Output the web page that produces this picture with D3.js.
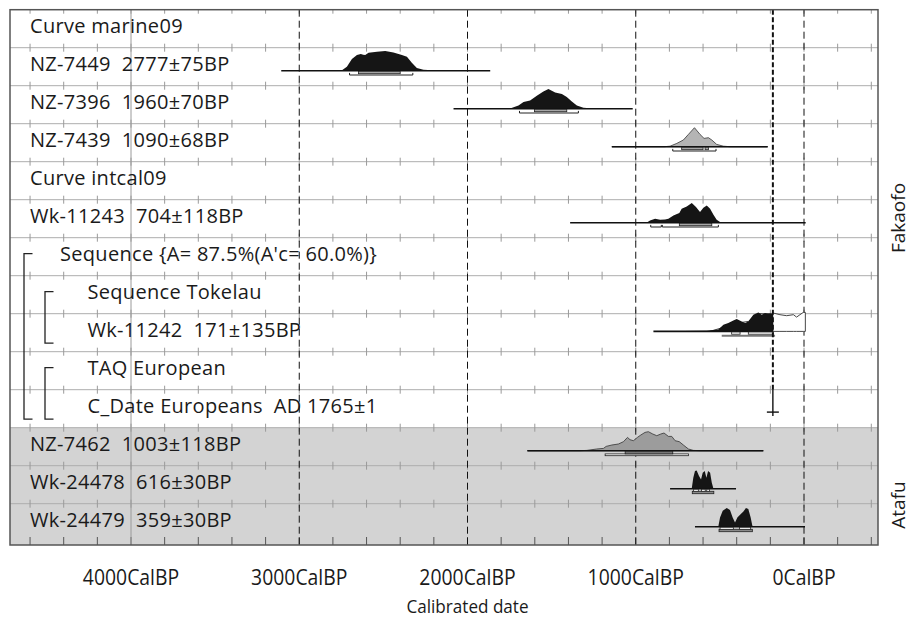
<!DOCTYPE html>
<html><head><meta charset="utf-8">
<script src="https://cdn.jsdelivr.net/npm/d3@7"></script>
<style>body{margin:0;background:#fff} svg{display:block} text{white-space:pre}</style>
</head><body><svg id="c" width="911" height="618"></svg>
<script>
// ---------------- DATA ----------------
const rowLabels = [
  "Curve marine09",
  "NZ-7449  2777±75BP",
  "NZ-7396  1960±70BP",
  "NZ-7439  1090±68BP",
  "Curve intcal09",
  "Wk-11243  704±118BP",
  "Sequence {A= 87.5%(A'c= 60.0%)}",
  "Sequence Tokelau",
  "Wk-11242  171±135BP",
  "TAQ European",
  "C_Date Europeans  AD 1765±1",
  "NZ-7462  1003±118BP",
  "Wk-24478  616±30BP",
  "Wk-24479  359±30BP"
];
const groupLabels = ["Fakaofo", "Atafu"];
const tickYears = [4000, 3000, 2000, 1000, 0];
const tickLabels = ["4000CalBP", "3000CalBP", "2000CalBP", "1000CalBP", "0CalBP"];
const axisTitle = "Calibrated date";

// distributions: [cal BP, relative probability]
const nz7449Dist = [[3107,0],[2780,0.2],[2746,0.4],[2717,4],[2687,11.7],[2657,15.7],[2634,16.7],[2620,16],[2608,15.7],[2588,18],[2538,19],[2489,19.7],[2440,18.3],[2390,15.7],[2360,14],[2331,8],[2301,2.7],[2262,1],[2182,0.3],[2103,0],[1865,0]];
const nz7396Dist = [[2083,0],[1790,0],[1747,0.3],[1697,3.3],[1667,6.7],[1628,8.3],[1588,13],[1549,17.3],[1519,19.7],[1479,16.3],[1439,14.7],[1410,11.7],[1380,7.3],[1350,3.3],[1311,1],[1251,0.3],[1190,0],[1018,0]];
const nz7439Dist = [[1142,0],[830,0],[796,0.5],[756,3.3],[717,6.7],[687,12.3],[651,19],[618,12.3],[594,8.3],[568,9],[548,6.7],[519,2.3],[479,0.5],[440,0],[216,0]];
const wk11243Dist = [[1390,0],[960,0],[934,0.3],[915,2.3],[885,4],[855,3],[826,3.3],[806,4],[776,7.3],[741,9.7],[727,14],[697,16.3],[667,19.7],[642,15.7],[618,10.7],[598,15],[578,17.3],[558,14],[539,8.3],[519,3],[499,0.7],[380,0.3],[280,0.2],[150,0],[-10,0]];
const wk11242Post = [[895,0],[717,0.3],[578,0.7],[509,2],[479,6.7],[450,8.3],[420,11],[400,12.3],[370,10],[350,8.3],[331,10],[301,16.7],[272,19],[251,16.7],[232,18.3],[212,17.7],[192,17.7],[183,17.7],[182.5,0]];
const wk11242Like = [[560,0],[480,4],[420,8],[370,9],[330,10],[300,15],[272,18],[232,17.5],[192,18],[182,18.3],[143,16.7],[103,15.7],[63,16.7],[44,14.3],[24,16.7],[4,19],[-8,19],[-8,0]];
const nz7462Dist = [[1644,0],[1330,0],[1291,0.3],[1232,1.7],[1192,2.3],[1176,4.3],[1142,5.7],[1103,6.7],[1073,9],[1049,13.3],[1034,11],[1014,10],[990,13.3],[970,15.7],[945,18.3],[925,19],[899,16.7],[875,15],[851,16.7],[832,17.7],[806,14.3],[786,14.3],[766,10],[741,9],[717,5.7],[687,1.7],[658,0.3],[620,0],[242,0]];
const wk24478Dist = [[796,0],[672,0],[667,0.5],[658,11],[648,17.7],[638,18.3],[624,12.7],[612,9.3],[602,16],[590,17.7],[580,11],[570,17.7],[558,16],[548,6],[539,0.5],[530,0],[404,0]];
const wk24479Dist = [[648,0],[515,0],[509,0.5],[499,9.3],[483,16],[459,18.7],[440,16.7],[424,9.3],[410,4.3],[396,9.3],[380,12],[360,15.3],[345,18.7],[331,17.7],[317,9.3],[307,1],[297,0],[-6,0]];

// highest posterior density ranges [from, to] cal BP
const nz7449R68 = [[2648,2400]],  nz7449R95 = [[2701,2325]];
const nz7396R68 = [[1602,1410]],  nz7396R95 = [[1691,1341]];
const nz7439R68 = [[727,600],[588,568]], nz7439R95 = [[780,523]];
const wk11243R68 = [[741,548]], wk11243R95 = [[911,848],[842,509]];
const wk11242R68 = [[430,380],[331,183]], wk11242R95 = [[489,172]];
const nz7462R68 = [[1063,780]], nz7462R95 = [[1182,687]];
const wk24478R68 = [[656,628],[610,587],[578,562]], wk24478R95 = [[664,536]];
const wk24479R68 = [[499,420],[384,317]], wk24479R95 = [[505,307]];

const cDateBP = 185; // AD 1765

// ---------------- LAYOUT ----------------
const svg = d3.select("#c");
const L = 10, R = 878, T = 9.7, B = 545, rowH = 38;
const x = d3.scaleLinear().domain([4000, 0]).range([131, 804]);
const y = d3.scaleBand().domain(d3.range(rowLabels.length)).range([T, T + rowH * rowLabels.length]).paddingInner(0).paddingOuter(0);
const h = d3.scaleLinear().domain([0, 20]).range([0, 20]);
const font = "'Open Sans', 'Noto Sans', sans-serif";

// grey band (Atafu)
svg.append("rect").attr("x", L).attr("y", y(11)).attr("width", R - L).attr("height", B - y(11)).attr("fill", "#d3d3d3");

// row lines and ticks
const minorYears = d3.range(-400, 4601, 200);
for (let i = 0; i < rowLabels.length; i++) {
  const yy = y(i);
  if (i > 0) svg.append("line").attr("x1", L).attr("x2", R).attr("y1", yy).attr("y2", yy).attr("stroke", "#adadad").attr("stroke-width", 1);
  svg.selectAll(null).data(minorYears).join("line")
    .attr("x1", d => x(d)).attr("x2", d => x(d))
    .attr("y1", i === 0 ? yy : yy - 4).attr("y2", yy + 4)
    .attr("stroke", "#9a9a9a").attr("stroke-width", 1);
}
// bottom ticks
svg.selectAll(null).data(minorYears).join("line")
  .attr("x1", d => x(d)).attr("x2", d => x(d)).attr("y1", B - 8).attr("y2", B)
  .attr("stroke", "#555").attr("stroke-width", 1);

// vertical lines at 1000 yr
svg.append("line").attr("x1", x(4000)).attr("x2", x(4000)).attr("y1", T).attr("y2", B).attr("stroke", "#9a9a9a").attr("stroke-width", 1);
svg.selectAll(null).data(tickYears.filter(d => d !== 4000)).join("line")
  .attr("x1", d => x(d)).attr("x2", d => x(d)).attr("y1", T).attr("y2", B)
  .attr("stroke", "#111").attr("stroke-width", 1).attr("stroke-dasharray", "7,4");

// ---------------- DISTRIBUTIONS ----------------
function base(i) { return y(i) + 23; }
function drawDist(i, data, fill, stroke, baseOffset) {
  const b = base(i) + (baseOffset || 0);
  const area = d3.area().x(d => x(d[0])).y0(b).y1(d => b - h(d[1])).curve(d3.curveLinear);
  svg.append("path").datum(data).attr("d", area).attr("fill", fill)
    .attr("stroke", stroke || "none").attr("stroke-width", 0.8).attr("stroke-linejoin", "round");
  const ext = d3.extent(data, d => d[0]);
  svg.append("line").attr("x1", x(ext[1])).attr("x2", x(ext[0])).attr("y1", b).attr("y2", b)
    .attr("stroke", "#111").attr("stroke-width", 1.6);
  return b;
}
function drawRanges(b, r68, r95, style) {
  if (style === "white") {
    r95.forEach(r => {
      const x1 = x(r[0]), x2 = x(r[1]);
      svg.append("path").attr("d", `M${x1},${b+2.2}V${b+4.3}H${x2}V${b+2.2}`).attr("fill", "none").attr("stroke", "#222").attr("stroke-width", 1);
    });
    r68.forEach(r => {
      svg.append("rect").attr("x", x(r[0])).attr("y", b + 0.6).attr("width", x(r[1]) - x(r[0])).attr("height", 2.4)
        .attr("fill", "#a6a6a6").attr("stroke", "#222").attr("stroke-width", 0.8);
    });
  } else if (style === "post") {
    r95.forEach(r => {
      svg.append("line").attr("x1", x(r[0])).attr("x2", x(r[1])).attr("y1", b + 4.3).attr("y2", b + 4.3).attr("stroke", "#777").attr("stroke-width", 2);
    });
    r68.forEach(r => {
      svg.append("rect").attr("x", x(r[0])).attr("y", b + 0.6).attr("width", x(r[1]) - x(r[0])).attr("height", 2.2)
        .attr("fill", "#fff").attr("stroke", "#222").attr("stroke-width", 0.8);
    });
  } else if (style === "greyA") {
    r95.forEach(r => {
      svg.append("rect").attr("x", x(r[0])).attr("y", b + 3.2).attr("width", x(r[1]) - x(r[0])).attr("height", 1.8)
        .attr("fill", "#fff").attr("stroke", "#222").attr("stroke-width", 0.8);
    });
    r68.forEach(r => {
      svg.append("rect").attr("x", x(r[0])).attr("y", b + 0.6).attr("width", x(r[1]) - x(r[0])).attr("height", 2.6)
        .attr("fill", "#777").attr("stroke", "#222").attr("stroke-width", 0.8);
    });
  } else {
    r95.forEach(r => {
      svg.append("rect").attr("x", x(r[0])).attr("y", b + 2.6).attr("width", x(r[1]) - x(r[0])).attr("height", 2.4)
        .attr("fill", "#8a8a8a").attr("stroke", "#222").attr("stroke-width", 0.8);
    });
    r68.forEach(r => {
      svg.append("rect").attr("x", x(r[0])).attr("y", b + 0.6).attr("width", x(r[1]) - x(r[0])).attr("height", 2)
        .attr("fill", "#fff").attr("stroke", "#222").attr("stroke-width", 0.8);
    });
  }
}

let b;
b = drawDist(1, nz7449Dist, "#151515"); drawRanges(b, nz7449R68, nz7449R95, "white");
b = drawDist(2, nz7396Dist, "#151515"); drawRanges(b, nz7396R68, nz7396R95, "white");
b = drawDist(3, nz7439Dist, "#b4b4b4", "#333"); drawRanges(b, nz7439R68, nz7439R95, "white");
b = drawDist(5, wk11243Dist, "#151515"); drawRanges(b, wk11243R68, wk11243R95, "white");

// Wk-11242: likelihood outline + posterior
{
  const bb = base(8) - 5.3;
  const likeArea = d3.area().x(d => x(d[0])).y0(bb).y1(d => bb - h(d[1]));
  svg.append("path").datum(wk11242Like).attr("d", likeArea).attr("fill", "#fff").attr("stroke", "#333").attr("stroke-width", 0.9);
  drawDist(8, wk11242Post, "#151515", null, -5.3);
  drawRanges(bb, wk11242R68, wk11242R95, "post");
}

b = drawDist(11, nz7462Dist, "#9c9c9c", "#333"); drawRanges(b, nz7462R68, nz7462R95, "greyA");
b = drawDist(12, wk24478Dist, "#151515"); drawRanges(b, wk24478R68, wk24478R95, "greyB");
b = drawDist(13, wk24479Dist, "#151515"); drawRanges(b, wk24479R68, wk24479R95, "greyB");

// C_Date marker and dashed line
{
  const cx = x(cDateBP), bc = base(10) - 0.6;
  svg.append("line").attr("x1", cx).attr("x2", cx).attr("y1", T).attr("y2", y(10))
    .attr("stroke", "#111").attr("stroke-width", 2).attr("stroke-dasharray", "5,2.5");
  svg.append("line").attr("x1", cx).attr("x2", cx).attr("y1", y(10)).attr("y2", bc + 4)
    .attr("stroke", "#111").attr("stroke-width", 1.4);
  svg.append("line").attr("x1", cx - 6).attr("x2", cx + 6).attr("y1", bc).attr("y2", bc)
    .attr("stroke", "#111").attr("stroke-width", 1.4);
}

// frame
svg.append("rect").attr("x", L).attr("y", T).attr("width", R - L).attr("height", B - T)
  .attr("fill", "none").attr("stroke", "#555").attr("stroke-width", 1.5);

// ---------------- TEXT ----------------
const indent = i => (i === 6 ? 60 : (i >= 7 && i <= 10 ? 87.5 : 30));
svg.selectAll(null).data(rowLabels).join("text")
  .attr("x", (d, i) => indent(i)).attr("y", (d, i) => y(i) + 23.5)
  .attr("font-family", font).attr("font-size", 20).attr("letter-spacing", 0.3).attr("fill", "#1a1a1a")
  .text(d => d);

// brackets
function bracket(bx, i0, i1) {
  const y0 = y(i0) + 16, y1 = y(i1) + rowH - 8.5;
  svg.append("path").attr("d", `M${bx + 8.5},${y0}H${bx}V${y1}H${bx + 8.5}`)
    .attr("fill", "none").attr("stroke", "#222").attr("stroke-width", 1.3);
}
bracket(24, 6, 10);
bracket(45, 7, 8);
bracket(45, 9, 10);

// group labels (rotated)
const groupY = [218, 505];
groupLabels.forEach((g, k) => {
  svg.append("text").attr("transform", `translate(905,${groupY[k]}) rotate(-90)`)
    .attr("text-anchor", "middle").attr("font-family", font).attr("font-size", 19).attr("fill", "#1a1a1a").text(g);
});

// axis labels
svg.selectAll(null).data(tickYears).join("text")
  .attr("transform", d => `translate(${x(d)},585) scale(0.88,1)`)
  .attr("text-anchor", "middle").attr("font-family", font).attr("font-size", 22).attr("fill", "#1a1a1a")
  .text((d, i) => tickLabels[i]);
svg.append("text").attr("transform", `translate(${x(2000)},613) scale(0.9,1)`)
  .attr("text-anchor", "middle").attr("font-family", font).attr("font-size", 19).attr("fill", "#1a1a1a")
  .text(axisTitle);
</script></body></html>
